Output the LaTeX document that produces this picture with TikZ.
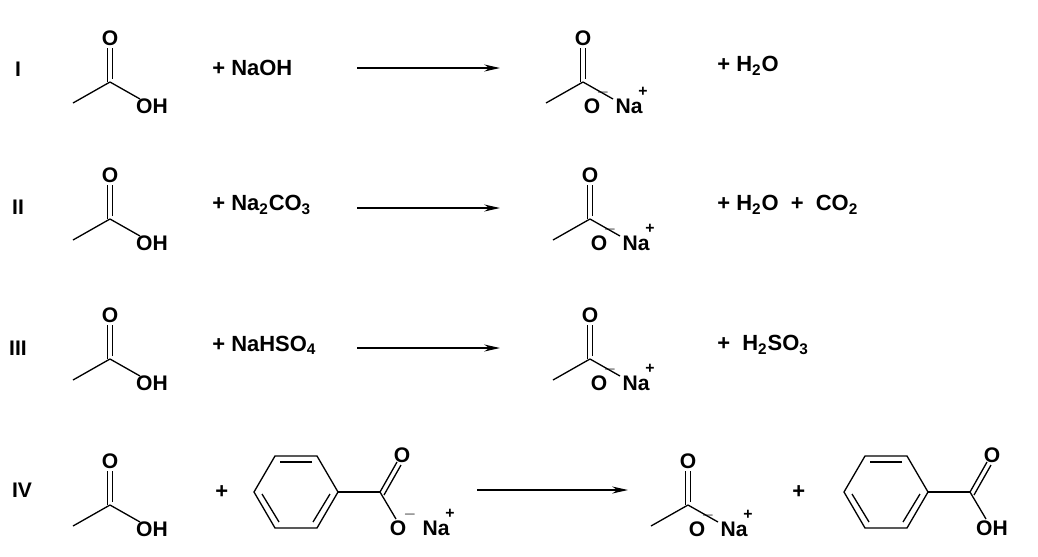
\documentclass[tikz,border=0pt]{standalone}
\usepackage{fontspec}
\setmainfont{Liberation Sans}
\usetikzlibrary{arrows.meta}
\tikzset{
  atom/.style={font=\bfseries\fontsize{12}{12}\selectfont, inner sep=0pt},
  txt/.style={font=\bfseries\fontsize{12.5}{14}\selectfont, inner sep=0pt, anchor=west},
  bond/.style={line width=0.75pt},
  rxn/.style={line width=0.7pt, -{Stealth[length=9pt,width=4pt]}}
}
% acetic acid / acetate, carbonyl carbon at (#1,#2)
\newcommand{\acetyl}[2]{
  \draw[bond] (#1-37,#2+21) -- (#1,#2);
  \draw[bond] (#1-2.5,#2) -- (#1-2.5,#2-34);
  \draw[bond] (#1+2.5,#2-3) -- (#1+2.5,#2-34);
  \draw[bond] (#1,#2) -- (#1+30,#2+17);
  \node[atom] at (#1,#2-44) {O};
}
\newcommand{\acid}[2]{\acetyl{#1}{#2}
  \node[atom] at (#1+42,#2+24) {OH};}
\newcommand{\salt}[2]{\acetyl{#1}{#2}
  \node[atom] at (#1+9,#2+24) {O};
  \node[atom] at (#1+20,#2+11) {\fontsize{9}{9}\selectfont $-$};
  \node[atom] at (#1+46,#2+24) {Na};
  \node[atom] at (#1+60,#2+10) {\fontsize{9}{9}\selectfont +};}
% benzene ring centred at (#1,#2) with carboxyl group
\newcommand{\benzo}[2]{
  \draw[bond] (#1+42,#2) -- (#1+21,#2-36) -- (#1-21,#2-36) -- (#1-42,#2)
    -- (#1-21,#2+36) -- (#1+21,#2+36) -- cycle;
  \draw[bond] (#1+16,#2-30) -- (#1-16,#2-30);
  \draw[bond] (#1-34,#2+2) -- (#1-17,#2+30);
  \draw[bond] (#1+34,#2+2) -- (#1+17,#2+30);
  \draw[bond] (#1+42,#2) -- (#1+84,#2);
  \draw[bond] (#1+84,#2) -- (#1+101,#2-30);
  \draw[bond] (#1+88,#2+3) -- (#1+105,#2-27);
  \draw[bond] (#1+84,#2) -- (#1+100,#2+27);
  \node[atom] at (#1+106,#2-37) {O};
}
\begin{document}
\begin{tikzpicture}[x=0.02cm,y=-0.02cm]
\useasboundingbox (0,0) rectangle (1038,556);
%% row I
\node[atom] (r1) at (18,69) {I};
\acid{110}{82}
\node[txt] (naoh) at (212,68) {+ NaOH};
\coordinate (a1s) at (357,68); \coordinate (a1e) at (500,68);
\draw[rxn] (a1s) -- (a1e);
\salt{583}{82}
\node[txt] (p1) at (717,66) {+ H\textsubscript{2}O};
%% row II
\node[atom] (r2) at (18,207) {II};
\acid{110}{219}
\node[txt] (naco) at (212,205) {+ Na\textsubscript{2}CO\textsubscript{3}};
\coordinate (a2s) at (357,208); \coordinate (a2e) at (500,208);
\draw[rxn] (a2s) -- (a2e);
\salt{590}{219}
\node[txt] (p2) at (717,205) {+ H\textsubscript{2}O \ + \ CO\textsubscript{2}};
%% row III
\node[atom] (r3) at (18,348) {III};
\acid{110}{359}
\node[txt] (nahso) at (212,345) {+ NaHSO\textsubscript{4}};
\coordinate (a3s) at (357,348); \coordinate (a3e) at (500,348);
\draw[rxn] (a3s) -- (a3e);
\salt{590}{359}
\node[txt] (p3) at (717,345) {+ \ H\textsubscript{2}SO\textsubscript{3}};
%% row IV
\node[atom] (r4) at (22,490) {IV};
\acid{110}{505}
\node[txt] (plus4) at (215,492) {+};
\benzo{296}{492}
\node[atom] at (398,528) {O};
\node[atom] at (410,515) {\fontsize{9}{9}\selectfont $-$};
\node[atom] at (436,528) {Na};
\node[atom] at (450,514) {\fontsize{9}{9}\selectfont +};
\coordinate (a4s) at (477,490); \coordinate (a4e) at (628,490);
\draw[rxn] (a4s) -- (a4e);
\salt{688}{505}
\node[txt] (plus5) at (792,492) {+};
\benzo{886}{492}
\node[atom] at (992,528) {OH};
\end{tikzpicture}
\end{document}
